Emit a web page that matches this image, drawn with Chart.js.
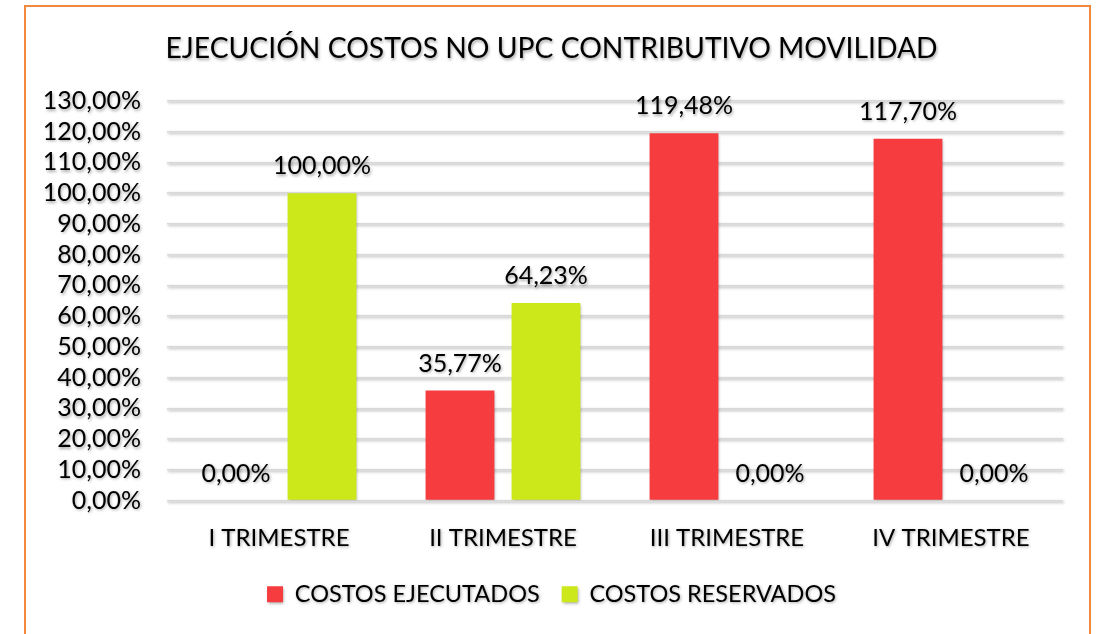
<!DOCTYPE html>
<html>
<head>
<meta charset="utf-8">
<script src="https://cdn.jsdelivr.net/npm/chart.js@4.4.0/dist/chart.umd.min.js"></script>
<style>
  html, body { margin: 0; padding: 0; background: #fff; }
  #frame { position: absolute; left: 24px; top: 5px; width: 1067px; height: 700px; border: 2px solid #F0883E; box-sizing: border-box; }
  #wrap { position: absolute; left: 0; top: 0; width: 1102px; height: 634px; }
</style>
</head>
<body>
<div id="frame"></div>
<div id="wrap"><canvas id="chart-1"></canvas></div>
<script>
const categories = ["I TRIMESTRE", "II TRIMESTRE", "III TRIMESTRE", "IV TRIMESTRE"];
const costosEjecutados = [0, 35.77, 119.48, 117.70];
const costosReservados = [100, 64.23, 0, 0];

const fmt = (v) => v.toFixed(2).replace(".", ",") + "%";
const FONT = "Lato, 'Open Sans', sans-serif";

// sombra suave en textos y barras, como en el original
const shadowPlugin = {
  id: "shadow",
  beforeDraw(chart) {
    const c = chart.ctx;
    c.save();
    c.shadowColor = "rgba(0,0,0,0.35)";
    c.shadowBlur = 3;
    c.shadowOffsetX = 1;
    c.shadowOffsetY = 1.5;
  },
  afterDatasetsDraw(chart) {
    const c = chart.ctx;
    c.save();
    c.font = "25px " + FONT;
    c.fillStyle = "#000";
    c.textAlign = "center";
    c.textBaseline = "middle";
    chart.data.datasets.forEach((ds, i) => {
      chart.getDatasetMeta(i).data.forEach((bar, j) => {
        c.fillText(fmt(ds.data[j]), bar.x, bar.y - 27);
      });
    });
    c.restore();
  },
  afterDraw(chart) {
    chart.ctx.restore();
  }
};

const ctx1 = document.getElementById("chart-1").getContext("2d");
const myChart1 = new Chart(ctx1, {
  type: "bar",
  data: {
    labels: categories,
    datasets: [
      { label: "COSTOS EJECUTADOS", data: costosEjecutados, backgroundColor: "#F63C3E" },
      { label: "COSTOS RESERVADOS", data: costosReservados, backgroundColor: "#CCE81A" },
    ],
  },
  options: {
    responsive: true,
    maintainAspectRatio: false,
    animation: false,
    categoryPercentage: 0.768,
    barPercentage: 0.8,
    layout: { padding: { left: 40, right: 39, top: 0, bottom: 18 } },
    plugins: {
      title: {
        display: true,
        text: "EJECUCIÓN COSTOS NO UPC CONTRIBUTIVO MOVILIDAD",
        color: "#000",
        font: { family: FONT, size: 28.3, weight: "normal" },
        padding: { top: 32, bottom: 35 },
      },
      legend: {
        position: "bottom",
        labels: {
          color: "#000",
          font: { family: FONT, size: 23.5 },
          boxWidth: 16,
          boxHeight: 16,
          padding: 22,
        },
      },
      tooltip: { enabled: false },
    },
    scales: {
      x: {
        grid: { display: false },
        border: { display: false },
        ticks: { color: "#000", font: { family: FONT, size: 24 }, padding: 15 },
        afterFit: (s) => { s.height = 60; },
      },
      y: {
        min: 0,
        max: 130,
        ticks: {
          stepSize: 10,
          autoSkip: false,
          color: "#000",
          font: { family: FONT, size: 25 },
          padding: 26,
          callback: (v) => fmt(v),
        },
        grid: { color: "#D9D9D9", lineWidth: 1.5, drawTicks: false },
        border: { display: false },
        afterFit: (s) => { s.width = 127; },
      },
    },
  },
  plugins: [shadowPlugin],
});
</script>
</body>
</html>
